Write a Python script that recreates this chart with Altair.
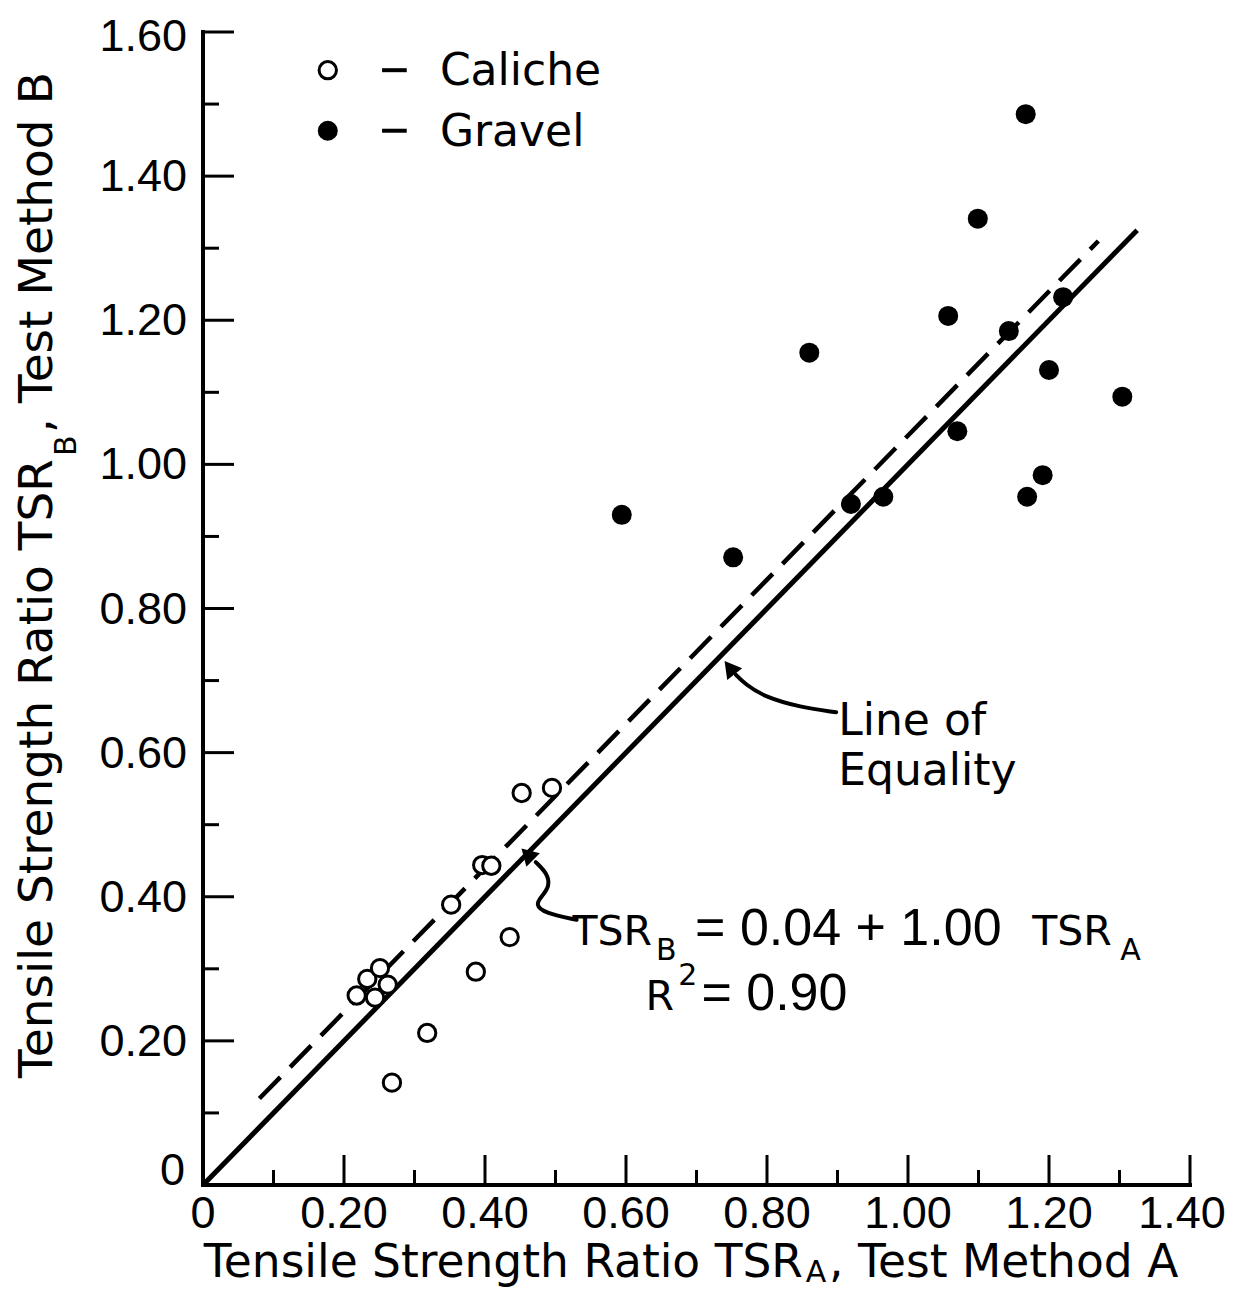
import altair as alt
import pandas as pd

# ---------------- data ----------------
caliche_x = [0.218, 0.233, 0.251, 0.262, 0.244, 0.268, 0.318, 0.352, 0.387, 0.396, 0.409, 0.435, 0.452, 0.495]
caliche_y = [0.263, 0.286, 0.301, 0.278, 0.260, 0.142, 0.211, 0.389, 0.296, 0.444, 0.443, 0.344, 0.544, 0.551]

gravel_x = [0.594, 0.752, 0.860, 0.919, 0.965, 1.057, 1.070, 1.099, 1.143, 1.167, 1.169, 1.191, 1.200, 1.220, 1.304]
gravel_y = [0.930, 0.871, 1.155, 0.945, 0.955, 1.206, 1.046, 1.341, 1.185, 1.486, 0.955, 0.985, 1.131, 1.232, 1.094]

equality_x = [0.0, 1.325]
fit_x = [0.08, 1.27]
fit_intercept = 0.04
fit_slope = 1.00

x_domain = [0.0, 1.4]
y_domain = [0.0, 1.6]
x_label_values = [0.2, 0.4, 0.6, 0.8, 1.0, 1.2]
x_label_text = ["0.20", "0.40", "0.60", "0.80", "1.00", "1.20"]
x_last_value = 1.4
x_last_text = "1.40"
y_label_values = [0.2, 0.4, 0.6, 0.8, 1.0, 1.2, 1.4]
y_label_text = ["0.20", "0.40", "0.60", "0.80", "1.00", "1.20", "1.40"]
y_top_value = 1.6
y_top_text = "1.60"
zero_label = "0"
x_major = [0.2, 0.4, 0.6, 0.8, 1.0, 1.2, 1.4]
x_minor = [0.1, 0.3, 0.5, 0.7, 0.9, 1.1, 1.3]
y_major = [0.2, 0.4, 0.6, 0.8, 1.0, 1.2, 1.4, 1.6]
y_minor = [0.1, 0.3, 0.5, 0.7, 0.9, 1.1, 1.3, 1.5]

# annotation arrows (curve points) and heads
arrow1_x = [0.898, 0.847, 0.797, 0.769, 0.756]
arrow1_y = [0.656, 0.663, 0.677, 0.695, 0.708]
arrow1_head = (0.747, 0.718)
arrow2_x = [0.530, 0.485, 0.471, 0.481, 0.492, 0.488, 0.472]
arrow2_y = [0.368, 0.377, 0.389, 0.401, 0.415, 0.433, 0.448]
arrow2_head = (0.460, 0.459)

# legend
legend_labels = ["Caliche", "Gravel"]
legend_y = [1.547, 1.463]
legend_text_y = [1.526, 1.442]

W, H = 987, 1153
FONT = "DejaVu Sans"
NUMFONT = "Liberation Sans"
LABEL_SIZE = 45

xs = alt.Scale(domain=x_domain, nice=False, zero=False)
ys = alt.Scale(domain=y_domain, nice=False, zero=False)


def X(f="x"):
    return alt.X(f, type="quantitative", scale=xs, axis=None)


def Y(f="y"):
    return alt.Y(f, type="quantitative", scale=ys, axis=None)


# axis lines
xaxis_line = alt.Chart(pd.DataFrame({"x": [x_domain[0]], "x2": [x_domain[1]], "y": [0.0]})).mark_rule(
    color="black", strokeWidth=4, strokeCap="square").encode(x=X(), x2="x2", y=Y())
yaxis_line = alt.Chart(pd.DataFrame({"y": [y_domain[0]], "y2": [y_domain[1]], "x": [0.0]})).mark_rule(
    color="black", strokeWidth=4, strokeCap="square").encode(y=Y(), y2="y2", x=X())

# tick labels
xlab = alt.Chart(pd.DataFrame({"x": [0.0] + x_label_values, "t": [zero_label] + x_label_text})).mark_text(
    align="center", baseline="top", font=NUMFONT, fontSize=LABEL_SIZE, color="black", dy=7
).encode(x=X(), y=alt.value(H), text="t:N")
xlab_last = alt.Chart(pd.DataFrame({"x": [x_last_value], "t": [x_last_text]})).mark_text(
    align="center", baseline="top", font=NUMFONT, fontSize=LABEL_SIZE, color="black", dy=7, dx=-8
).encode(x=X(), y=alt.value(H), text="t:N")
ylab = alt.Chart(pd.DataFrame({"y": y_label_values, "t": y_label_text})).mark_text(
    align="right", baseline="middle", font=NUMFONT, fontSize=LABEL_SIZE, color="black", dx=-16, dy=1
).encode(y=Y(), x=alt.value(0), text="t:N")
ylab_top = alt.Chart(pd.DataFrame({"y": [y_top_value], "t": [y_top_text]})).mark_text(
    align="right", baseline="middle", font=NUMFONT, fontSize=LABEL_SIZE, color="black", dx=-16, dy=5
).encode(y=Y(), x=alt.value(0), text="t:N")
ylab0 = alt.Chart(pd.DataFrame({"y": [0.0], "t": [zero_label]})).mark_text(
    align="right", baseline="alphabetic", font=NUMFONT, fontSize=LABEL_SIZE, color="black", dx=-18
).encode(y=Y(), x=alt.value(0), text="t:N")

eq_df = pd.DataFrame({"x": equality_x, "y": equality_x})
eq_layer = alt.Chart(eq_df).mark_line(color="black", strokeWidth=5).encode(x=X(), y=Y())

fit_df = pd.DataFrame({"x": fit_x, "y": [fit_intercept + fit_slope * v for v in fit_x]})
fit_layer = alt.Chart(fit_df).mark_line(color="black", strokeWidth=4.5, strokeDash=[30, 14]).encode(x=X(), y=Y())

cal_df = pd.DataFrame({"x": caliche_x, "y": caliche_y})
cal_layer = alt.Chart(cal_df).mark_circle(
    fill="white", stroke="black", strokeWidth=3, size=300, opacity=1
).encode(x=X(), y=Y())

grav_df = pd.DataFrame({"x": gravel_x, "y": gravel_y})
gravel_layer = alt.Chart(grav_df).mark_circle(color="black", size=400, opacity=1).encode(x=X(), y=Y())

# inward ticks
ytm = pd.DataFrame({"y": y_major})
ytn = pd.DataFrame({"y": y_minor})
xtm = pd.DataFrame({"x": x_major})
xtn = pd.DataFrame({"x": x_minor})
ytick_major = alt.Chart(ytm).mark_rule(color="black", strokeWidth=3).encode(y=Y(), x=alt.value(0), x2=alt.value(31))
ytick_minor = alt.Chart(ytn).mark_rule(color="black", strokeWidth=3).encode(y=Y(), x=alt.value(0), x2=alt.value(16))
xtick_major = alt.Chart(xtm).mark_rule(color="black", strokeWidth=3).encode(x=X(), y=alt.value(H), y2=alt.value(H - 30))
xtick_minor = alt.Chart(xtn).mark_rule(color="black", strokeWidth=3).encode(x=X(), y=alt.value(H), y2=alt.value(H - 15))

# arrows
a1 = pd.DataFrame({"x": arrow1_x, "y": arrow1_y, "i": range(len(arrow1_x))})
a2 = pd.DataFrame({"x": arrow2_x, "y": arrow2_y, "i": range(len(arrow2_x))})
arrow1 = alt.Chart(a1).mark_line(color="black", strokeWidth=4, interpolate="basis", strokeCap="round").encode(
    x=X(), y=Y(), order="i:Q")
arrow2 = alt.Chart(a2).mark_line(color="black", strokeWidth=4, interpolate="basis", strokeCap="round").encode(
    x=X(), y=Y(), order="i:Q")
heads = alt.Chart(pd.DataFrame({"x": [arrow1_head[0], arrow2_head[0]],
                                "y": [arrow1_head[1], arrow2_head[1]],
                                "a": [322, 315]})).mark_point(
    shape="triangle-up", filled=True, color="black", size=360, opacity=1
).encode(x=X(), y=Y(), angle=alt.Angle("a:Q", scale=None))

# legend
leg_df = pd.DataFrame({"x": [0.177, 0.177], "y": legend_y})
leg_open = alt.Chart(leg_df.iloc[[0]]).mark_circle(fill="white", stroke="black", strokeWidth=3, size=300, opacity=1).encode(x=X(), y=Y())
leg_fill = alt.Chart(leg_df.iloc[[1]]).mark_circle(color="black", size=400, opacity=1).encode(x=X(), y=Y())
dash_df = pd.DataFrame({"x": [0.254, 0.254], "x2": [0.289, 0.289], "y": legend_y})
leg_dash = alt.Chart(dash_df).mark_rule(color="black", strokeWidth=4).encode(x=X(), x2="x2", y=Y())
legtxt_df = pd.DataFrame({"x": [0.336, 0.336], "y": legend_text_y, "t": legend_labels})
leg_text = alt.Chart(legtxt_df).mark_text(align="left", baseline="alphabetic", font=FONT, fontSize=44,
                                          color="black").encode(x=X(), y=Y(), text="t:N")


def txt(x, y, t, size=44, align="left", angle=0, font=FONT, baseline="alphabetic"):
    df = pd.DataFrame({"x": [x], "y": [y], "t": [t]})
    kw = dict(align=align, baseline=baseline, font=font, fontSize=size, color="black")
    if angle:
        kw["angle"] = angle
    return alt.Chart(df).mark_text(**kw).encode(x=X(), y=Y(), text="t:N")


texts = [
    txt(0.901, 0.624, "Line of"),
    txt(0.901, 0.555, "Equality"),
    txt(0.637, 0.333, "TSR", align="right", size=41),
    txt(0.6425, 0.312, "B", size=30),
    txt(0.698, 0.333, "= 0.04 + 1.00", font=NUMFONT, size=52),
    txt(1.289, 0.333, "TSR", align="right", size=41),
    txt(1.301, 0.312, "A", size=30),
    txt(0.668, 0.243, "R", align="right", size=41),
    txt(0.674, 0.278, "2", size=30),
    txt(0.707, 0.243, "= 0.90", font=NUMFONT, size=52),
    # x axis title
    txt(0.851, -0.128, "Tensile Strength Ratio TSR", align="right", size=45.5),
    txt(0.855, -0.1435, "A", size=30, baseline="bottom"),
    txt(0.888, -0.128, ", Test Method A", size=45.5),
    # y axis title
    txt(-0.214, 1.0075, "Tensile Strength Ratio TSR", align="right", angle=270, size=47),
    txt(-0.180, 1.0117, "B", align="left", angle=270, size=30),
    txt(-0.214, 1.0436, ", Test Method B", align="left", angle=270, size=47),
]

chart = alt.layer(
    eq_layer, fit_layer, cal_layer, gravel_layer,
    xaxis_line, yaxis_line, xlab, xlab_last, ylab, ylab_top, ylab0,
    ytick_major, ytick_minor, xtick_major, xtick_minor,
    arrow1, arrow2, heads,
    leg_open, leg_fill, leg_dash, leg_text,
    *texts,
).properties(
    width=W, height=H,
    padding={"left": 195, "top": 24, "right": 37, "bottom": 105},
    autosize=alt.AutoSizeParams(type="none"),
    background="white",
).configure_view(stroke=None)

chart.save("out.html", embed_options={"renderer": "svg", "actions": False})
